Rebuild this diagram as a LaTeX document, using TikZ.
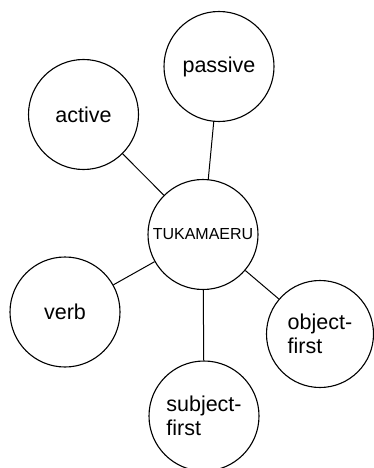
\documentclass[tikz,border=0pt]{standalone}
\usepackage{fontspec}
\setmainfont{Liberation Sans}
\begin{document}
\begin{tikzpicture}[x=1pt,y=-1pt,
  bubble/.style={circle,draw,line width=1.1pt,minimum size=110pt,inner sep=0pt,
    font=\fontsize{21.5}{24}\selectfont,align=left},
  hub/.style={bubble,font=\fontsize{16}{18}\selectfont},
  link/.style={line width=1pt}]
\useasboundingbox (0,0) rectangle (373,468);
\node[hub]    (tuka)    at (203,234.5) {TUKAMAERU};
\node[bubble] (passive) at (219,66.5)  {passive};
\node[bubble] (active)  at (83.5,114.5){active};
\node[bubble] (verb)    at (65,312)    {verb};
\node[bubble,minimum size=107pt] (object)  at (320,334) {object-\\first};
\node[bubble] (subject) at (204,416)   {subject-\\first};
\draw[link] (tuka) -- (passive);
\draw[link] (tuka) -- (active);
\draw[link] (tuka) -- (verb);
\draw[link] (tuka) -- (object);
\draw[link] (tuka) -- (subject);
\end{tikzpicture}
\end{document}
